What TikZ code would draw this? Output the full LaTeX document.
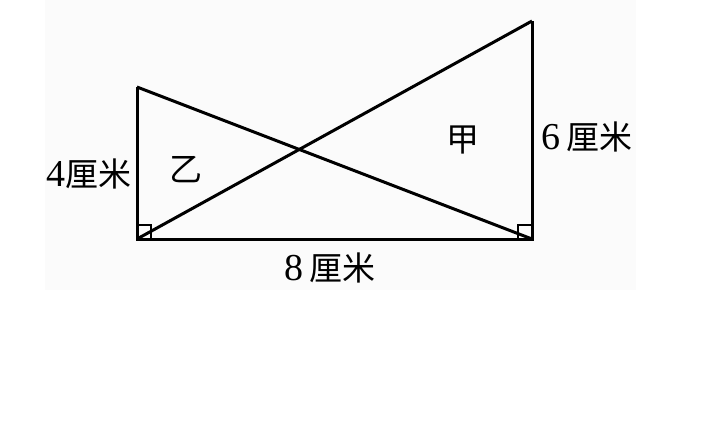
\documentclass[tikz,border=0pt]{standalone}
\usepackage{fontspec}
\setmainfont{Liberation Serif}
\newfontfamily\cjk{Noto Sans CJK SC}
\usetikzlibrary{positioning}
\newcommand\dig[1]{{\fontsize{38}{40}\selectfont #1}}

\begin{document}
\begin{tikzpicture}[x=1pt,y=-1pt,line width=3pt,
	lbl/.style={font=\fontsize{33}{36}\selectfont,inner sep=0pt},
	rmark/.style={line width=1.6pt}]
	\useasboundingbox (0,0) rectangle (720,423);
	\fill[black!1.5] (45,0) rectangle (636,290);
	% corners
	\coordinate (A) at (137,239);
	\coordinate (B) at (532,239);
	\coordinate (C) at (137,87);
	\coordinate (D) at (532,21);
	% right angles
	\draw[rmark] (A) rectangle ++(14,-14);
	\draw[rmark] (B) rectangle ++(-14,-14);
	% triangles
	\draw[line join=miter] (C) -- (A) -- (B) -- (D);
	\draw (C) -- (B);
	\draw (A) -- (D);
	% labels
	\node[lbl,anchor=east] (h4) at (133,174) {\dig{4}\cjk 厘米};
	\node[lbl,anchor=west] (h6) at (540,137) {\dig{6}\,\cjk 厘米};
	\node[lbl] (w8) at (330,268) {\dig{8}\,\cjk 厘米};
	\node[lbl] (yi) at (186,170) {\cjk 乙};
	\node[lbl] (jia) at (463,140) {\cjk 甲};
\end{tikzpicture}
\end{document}
